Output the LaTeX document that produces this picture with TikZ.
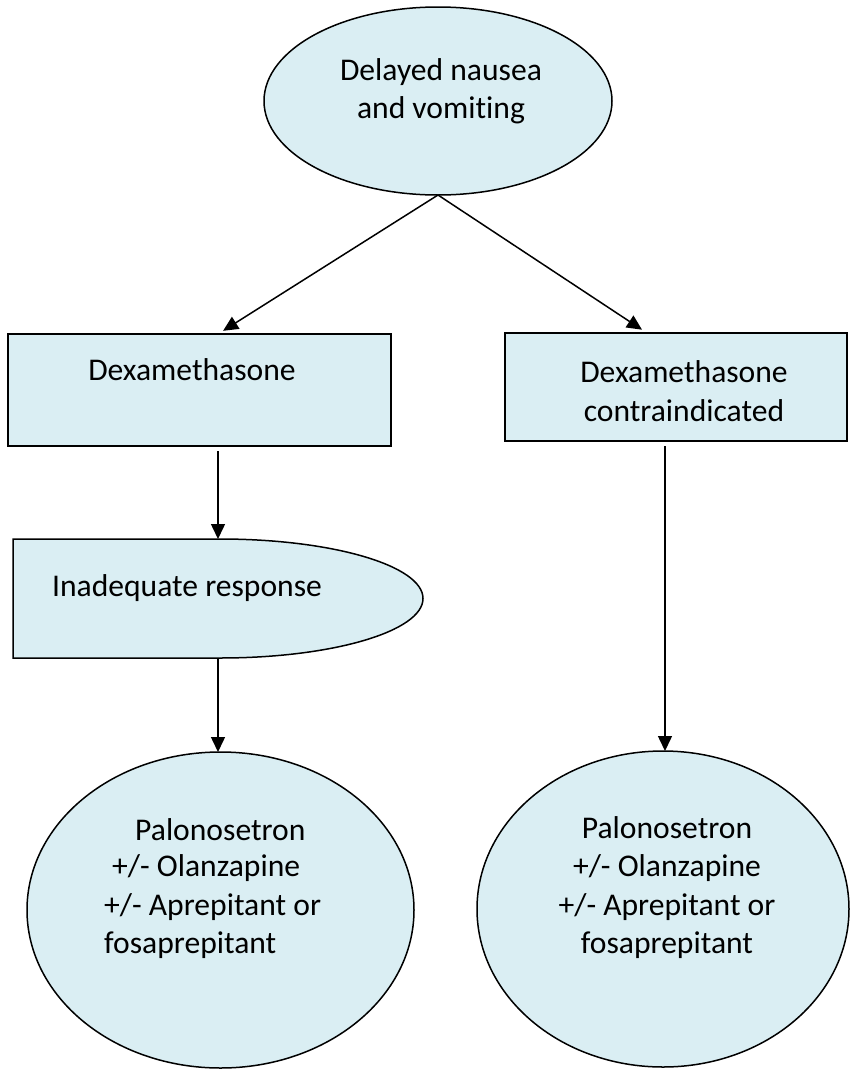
\documentclass[tikz,border=0pt]{standalone}
\usepackage{fontspec}
\setmainfont{Carlito}[Ligatures=NoCommon]
\usetikzlibrary{shapes.geometric,arrows.meta}
\definecolor{paleblue}{HTML}{DAEEF3}
\begin{document}
\begin{tikzpicture}[x=1pt,y=-1pt,
  shapeline/.style={draw=black,line width=1.5pt,fill=paleblue},
  oval/.style={shapeline,ellipse,inner sep=0pt,outer sep=0pt},
  boxnode/.style={shapeline,rectangle,inner sep=0pt,outer sep=0pt},
  label/.style={inner sep=0pt,font=\fontsize{31.6}{38.3}\selectfont},
  arr/.style={line width=1.5pt,-{Triangle[length=15pt,width=14pt]}}]
\useasboundingbox (0,0) rectangle (849,1071);
\fill[white] (0,0) rectangle (849,1071);

% start node
\node[oval,minimum width=348pt,minimum height=188pt] (top) at (438,101) {};
\node[label,align=center] (toptxt) at (441,91) {Delayed nausea\\and vomiting};

% second row
\node[boxnode,minimum width=383pt,minimum height=112pt] (lrect) at (199.5,390) {};
\node[label] (ltxt) at (192,370) {Dexamethasone};
\node[boxnode,minimum width=342pt,minimum height=108pt] (rrect) at (676,387) {};
\node[label,align=center] (rtxt) at (684,391) {Dexamethasone\\contraindicated};

% delay-shaped step on the left
\draw[shapeline] (13,539) -- (220,539)
  arc[start angle=-90,end angle=90,x radius=203,y radius=59.5]
  -- (13,658) -- cycle;
\coordinate (inadtop) at (218,539);
\coordinate (inadbot) at (218,658);
\node[label] (inadtxt) at (187,588) {Inadequate response};

% outcome ovals
\node[oval,minimum width=387pt,minimum height=316pt] (lres) at (220.5,910) {};
\node[label,anchor=west] (l1) at (135,830) {Palonosetron};
\node[label,anchor=west] (l2) at (112,868) {+/- Olanzapine};
\node[label,anchor=west] (l3) at (104,907) {+/- Aprepitant or};
\node[label,anchor=west] (l4) at (104,945) {fosaprepitant};

\node[oval,minimum width=372pt,minimum height=316pt] (rres) at (663,909) {};
\node[label,align=center] (rrestxt) at (667,887.5) {Palonosetron\\+/- Olanzapine\\+/- Aprepitant or\\fosaprepitant};

% connectors
\draw[arr,shorten >=6pt] (top.south) -- (lrect.north -| 218,0);
\draw[arr,shorten >=6pt] (top.south) -- (rrect.north -| 647,0);
\draw[arr,shorten <=5pt] (lrect.south -| inadtop) -- (inadtop);
\draw[arr] (inadbot) -- (lres.north -| inadbot);
\draw[arr,shorten <=5pt] (rrect.south -| 665,0) -- (rres.north -| 665,0);
\end{tikzpicture}
\end{document}
